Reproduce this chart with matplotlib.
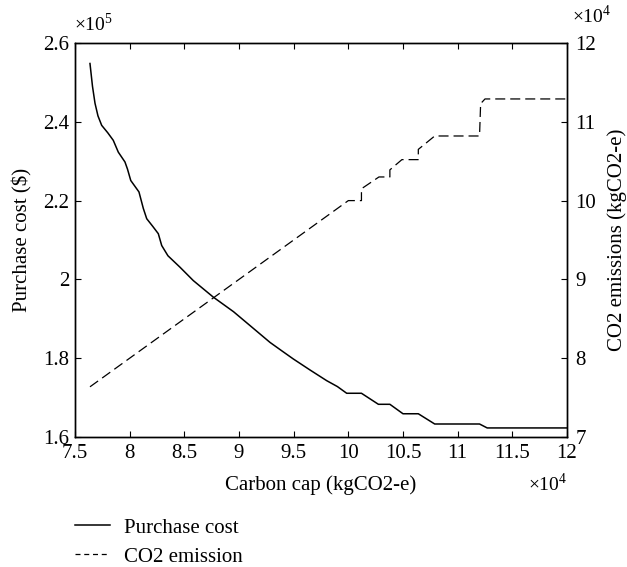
import matplotlib
matplotlib.use("Agg")
import matplotlib.pyplot as plt
from matplotlib.lines import Line2D

plt.rcParams["font.family"] = ["Liberation Serif", "DejaVu Serif"]
plt.rcParams["mathtext.fontset"] = "custom"
plt.rcParams["mathtext.rm"] = "Liberation Serif"

# carbon cap (x1e4 kgCO2-e) and purchase cost (x1e5 $)
cap = [7.637, 7.66, 7.683, 7.71, 7.744, 7.80, 7.85, 7.896, 7.957, 7.98,
       8.01, 8.085, 8.125, 8.156, 8.21, 8.262, 8.293, 8.35, 8.46, 8.582,
       8.765, 8.95, 9.10, 9.284, 9.39, 9.497, 9.65, 9.802, 9.90, 9.985,
       10.12, 10.275, 10.38, 10.50, 10.64, 10.79, 11.20, 11.27, 12.0]
cost = [2.548, 2.49, 2.447, 2.415, 2.391, 2.372, 2.353, 2.323, 2.298, 2.28,
        2.251, 2.222, 2.18, 2.154, 2.135, 2.116, 2.086, 2.06, 2.031, 1.997,
        1.955, 1.918, 1.883, 1.840, 1.819, 1.798, 1.77, 1.743, 1.728, 1.711,
        1.711, 1.683, 1.683, 1.659, 1.659, 1.633, 1.633, 1.623, 1.623]

# CO2 emission (x1e4 kgCO2-e)
co2_cap = [7.637, 10.0, 10.12, 10.12, 10.28, 10.38, 10.38, 10.49, 10.64,
           10.64, 10.79, 11.20, 11.21, 11.25, 12.0]
co2 = [7.637, 10.0, 10.0, 10.15, 10.30, 10.30, 10.39, 10.52, 10.52,
       10.65, 10.82, 10.82, 11.23, 11.29, 11.29]

x_ticks = [7.5, 8, 8.5, 9, 9.5, 10, 10.5, 11, 11.5, 12]
cost_ticks = [1.6, 1.8, 2.0, 2.2, 2.4, 2.6]
co2_ticks = [7, 8, 9, 10, 11, 12]

fs = 15
fig = plt.figure(figsize=(6.27, 5.67), dpi=100)
ax1 = fig.add_axes([75 / 627, 1 - 437 / 567, 492 / 627, 394 / 567])
ax2 = ax1.twinx()

ax1.plot(cap, cost, color="black", lw=1.1)
ax2.plot(co2_cap, co2, color="black", lw=0.9, ls=(0, (8, 4)))

ax1.set_xlim(7.5, 12)
ax1.set_ylim(1.6, 2.6)
ax2.set_ylim(7, 12)
ax1.set_xticks(x_ticks)
ax1.set_xticklabels(["%g" % t for t in x_ticks])
ax1.set_yticks(cost_ticks)
ax1.set_yticklabels(["%g" % t for t in cost_ticks])
ax2.set_yticks(co2_ticks)
ax2.set_yticklabels(["%g" % t for t in co2_ticks])

ax1.tick_params(axis="x", direction="in", length=4, labelsize=fs, top=True, pad=5)
ax1.tick_params(axis="y", direction="in", length=4, labelsize=fs, pad=4)
ax2.tick_params(direction="in", length=4, labelsize=fs, pad=6)
for ax in (ax1, ax2):
    for s in ax.spines.values():
        s.set_linewidth(1.0)

ax1.set_xlabel("Carbon cap (kgCO2-e)", fontsize=fs, labelpad=9)
ax1.set_ylabel("Purchase cost ($)", fontsize=fs, labelpad=8)
ax2.set_ylabel("CO2 emissions (kgCO2-e)", fontsize=fs, labelpad=8)

fig.text(74 / 627, 1 - 24 / 567, r"$\times10^{5}$", fontsize=14, va="center")
fig.text(572 / 627, 1 - 16 / 567, r"$\times10^{4}$", fontsize=14, va="center")
fig.text(528 / 627, 1 - 484 / 567, r"$\times10^{4}$", fontsize=14, va="center")

handles = [Line2D([], [], color="black", lw=1.1),
           Line2D([], [], color="black", lw=0.9, ls=(0, (4, 3)))]
fig.legend(handles, ["Purchase cost", "CO2 emission"], loc="upper left",
           bbox_to_anchor=(75 / 627, 1 - 518 / 567), frameon=False,
           fontsize=fs, handlelength=1.7, handletextpad=0.65,
           labelspacing=0.45, borderpad=0, borderaxespad=0)

fig.savefig("out.png", dpi=100)
